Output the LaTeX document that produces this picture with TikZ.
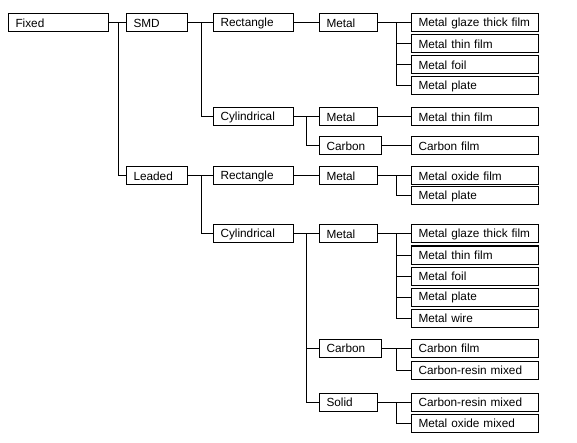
\documentclass[tikz,border=0pt]{standalone}
\usepackage{fontspec}
\setmainfont{Liberation Sans}

\begin{document}
\begin{tikzpicture}[x=1pt,y=-1pt,line width=1pt,
    box/.style={draw,anchor=west,minimum height=18pt,inner ysep=0pt,inner xsep=7pt,
        align=left,text width=#1,font=\fontsize{11.8}{14}\selectfont}]
        \useasboundingbox (0,0) rectangle (577,443);
        \node[box=86pt] (fixed) at (8,23) {Fixed};
        \node[box=47pt] (smd) at (126,23) {SMD};
        \node[box=47pt] (leaded) at (126,176) {Leaded};
        \node[box=66pt] (srect) at (213,23) {Rectangle};
        \node[box=66pt] (scyl) at (213,117) {Cylindrical};
        \node[box=66pt] (lrect) at (213,176) {Rectangle};
        \node[box=66pt] (lcyl) at (213,234) {Cylindrical};
        \node[box=44pt] (srmetal) at (319,23) {Metal};
        \node[box=44pt] (scmetal) at (319,117) {Metal};
        \node[box=48pt] (sccarbon) at (319,146) {Carbon};
        \node[box=44pt] (lrmetal) at (319,176) {Metal};
        \node[box=44pt] (lcmetal) at (319,234) {Metal};
        \node[box=48pt] (lccarbon) at (319,348) {Carbon};
        \node[box=44pt] (lcsolid) at (319,402) {Solid};
        \node[box=113pt] (srm1) at (411,23) {Metal glaze thick film};
        \node[box=113pt] (srm2) at (411,44) {Metal thin film};
        \node[box=113pt] (srm3) at (411,65) {Metal foil};
        \node[box=113pt] (srm4) at (411,86) {Metal plate};
        \node[box=113pt] (scm1) at (411,117) {Metal thin film};
        \node[box=113pt] (scc1) at (411,146) {Carbon film};
        \node[box=113pt] (lrm1) at (411,176) {Metal oxide film};
        \node[box=113pt] (lrm2) at (411,196) {Metal plate};
        \node[box=113pt] (lcm1) at (411,234) {Metal glaze thick film};
        \node[box=113pt] (lcm2) at (411,255) {Metal thin film};
        \node[box=113pt] (lcm3) at (411,276) {Metal foil};
        \node[box=113pt] (lcm4) at (411,297) {Metal plate};
        \node[box=113pt] (lcm5) at (411,318) {Metal wire};
        \node[box=113pt] (lcc1) at (411,348) {Carbon film};
        \node[box=113pt] (lcc2) at (411,370) {Carbon-resin mixed};
        \node[box=113pt] (lcs1) at (411,402) {Carbon-resin mixed};
        \node[box=113pt] (lcs2) at (411,423) {Metal oxide mixed};
        \draw (fixed.east) -- (smd.west);
        \draw (fixed.east) -- ++(9,0) |- (leaded.west);
        \draw (smd.east) -- (srect.west);
        \draw (smd.east) -- ++(13,0) |- (scyl.west);
        \draw (leaded.east) -- (lrect.west);
        \draw (leaded.east) -- ++(13,0) |- (lcyl.west);
        \draw (srect.east) -- (srmetal.west);
        \draw (scyl.east) -- (scmetal.west);
        \draw (scyl.east) -- ++(12,0) |- (sccarbon.west);
        \draw (lrect.east) -- (lrmetal.west);
        \draw (lcyl.east) -- (lcmetal.west);
        \draw (lcyl.east) -- ++(12,0) |- (lccarbon.west);
        \draw (lcyl.east) -- ++(12,0) |- (lcsolid.west);
        \draw (srmetal.east) -- (srm1.west);
        \draw (srmetal.east) -- ++(18,0) |- (srm2.west);
        \draw (srmetal.east) -- ++(18,0) |- (srm3.west);
        \draw (srmetal.east) -- ++(18,0) |- (srm4.west);
        \draw (scmetal.east) -- (scm1.west);
        \draw (sccarbon.east) -- (scc1.west);
        \draw (lrmetal.east) -- (lrm1.west);
        \draw (lrmetal.east) -- ++(18,0) |- (lrm2.west);
        \draw (lcmetal.east) -- (lcm1.west);
        \draw (lcmetal.east) -- ++(18,0) |- (lcm2.west);
        \draw (lcmetal.east) -- ++(18,0) |- (lcm3.west);
        \draw (lcmetal.east) -- ++(18,0) |- (lcm4.west);
        \draw (lcmetal.east) -- ++(18,0) |- (lcm5.west);
        \draw (lccarbon.east) -- (lcc1.west);
        \draw (lccarbon.east) -- ++(14,0) |- (lcc2.west);
        \draw (lcsolid.east) -- (lcs1.west);
        \draw (lcsolid.east) -- ++(18,0) |- (lcs2.west);
    \end{tikzpicture}
\end{document}
